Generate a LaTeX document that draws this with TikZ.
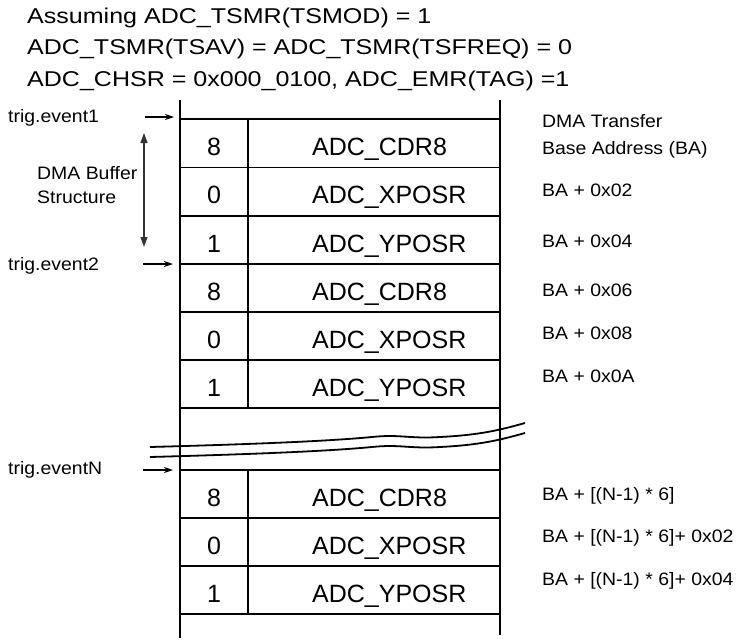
\documentclass[tikz,border=0pt]{standalone}
\usepackage{fontspec}
\setmainfont{Liberation Sans}
\newfontfamily\hdrfont[FakeStretch=1.17]{Liberation Sans}
\newfontfamily\lblfont[FakeStretch=1.08]{Liberation Sans}
\usetikzlibrary{arrows.meta}
\begin{document}
\begin{tikzpicture}[x=1pt,y=-1pt,
  hdr/.style={anchor=base west,inner sep=0pt,font=\hdrfont\fontsize{21.4}{25}\selectfont},
  lbl/.style={anchor=base west,inner sep=0pt,font=\lblfont\fontsize{18}{22}\selectfont},
  cellnum/.style={anchor=base,inner sep=0pt,font=\fontsize{25}{30}\selectfont},
  reg/.style={anchor=base west,inner sep=0pt,font=\fontsize{25}{30}\selectfont},
  outer/.style={line width=2.4pt},
  rowline/.style={line width=1.8pt},
  thinline/.style={line width=1.1pt},
  trig/.style={line width=1.1pt,-{Stealth[length=9pt,width=6pt]}},
  span/.style={line width=1.2pt,black!80,{Triangle[length=10pt,width=7pt]}-{Triangle[length=10pt,width=7pt]}},
  wave/.style={line width=1.8pt},
]
\useasboundingbox (0,0) rectangle (739,640);

% header
\node[hdr] (h1) at (27,23) {Assuming ADC\_TSMR(TSMOD) = 1};
\node[hdr] (h2) at (27,54) {ADC\_TSMR(TSAV) = ADC\_TSMR(TSFREQ) = 0};
\node[hdr] (h3) at (27,86) {ADC\_CHSR = 0x000\_0100, ADC\_EMR(TAG) =1};

% outer vertical lines
\draw[outer] (180,100) -- (180,638);
\draw[outer] (500,100) -- (500,635);

% horizontal lines
\foreach \yy in {119,408,470,614} \draw[thinline] (180,\yy) -- (500,\yy);
\foreach \yy in {167.5,216,264,312,360,518,566} \draw[rowline] (180,\yy) -- (500,\yy);

% column dividers
\draw[thinline] (248,119) -- (248,408);
\draw[thinline] (248,470) -- (248,614);

% cell contents
\foreach \top/\num/\rg [count=\i] in {119/8/CDR8,167.5/0/XPOSR,216/1/YPOSR,264/8/CDR8,312/0/XPOSR,360/1/YPOSR,470/8/CDR8,518/0/XPOSR,566/1/YPOSR}{
  \node[cellnum] (num\i) at (214,\top+36) {\num};
  \node[reg] (reg\i) at (312,\top+36) {ADC\_\rg};
}

% break (wavy lines)
\draw[wave] (150,447) .. controls (260,444) and (330,441) .. (372,437)
  .. controls (400,434) and (410,439) .. (440,437)
  .. controls (480,435) and (500,430) .. (525,423);
\draw[wave] (150,457) .. controls (260,454) and (330,451) .. (372,447)
  .. controls (400,444) and (410,449) .. (440,447)
  .. controls (480,445) and (500,440) .. (525,433);

% left labels and arrows
\node[lbl] (te1) at (8,122) {trig.event1};
\node[lbl] (te2) at (8,270) {trig.event2};
\node[lbl] (teN) at (8,474) {trig.eventN};
\node[lbl] (dmab) at (37,179) {DMA Buffer};
\node[lbl] (dmas) at (37,203) {Structure};

\coordinate (a1s) at (145,117); \coordinate (a1e) at (174,117);
\coordinate (a2s) at (143,264); \coordinate (a2e) at (173,264);
\coordinate (aNs) at (143,470); \coordinate (aNe) at (173,470);
\draw[trig] (a1s) -- (a1e);
\draw[trig] (a2s) -- (a2e);
\draw[trig] (aNs) -- (aNe);

\coordinate (sp1) at (144,133); \coordinate (sp2) at (144,247);
\draw[span] (sp1) -- (sp2);

% right labels
\node[lbl] (r0a) at (542,127) {DMA Transfer};
\node[lbl] (r0b) at (542,154) {Base Address (BA)};
\node[lbl] (r1) at (542,196) {BA + 0x02};
\node[lbl] (r2) at (542,247) {BA + 0x04};
\node[lbl] (r3) at (542,296) {BA + 0x06};
\node[lbl] (r4) at (542,339) {BA + 0x08};
\node[lbl] (r5) at (542,382) {BA + 0x0A};
\node[lbl] (r6) at (542,500) {BA + [(N-1) * 6]};
\node[lbl] (r7) at (542,542) {BA + [(N-1) * 6]+ 0x02};
\node[lbl] (r8) at (542,585) {BA + [(N-1) * 6]+ 0x04};
\end{tikzpicture}
\end{document}
